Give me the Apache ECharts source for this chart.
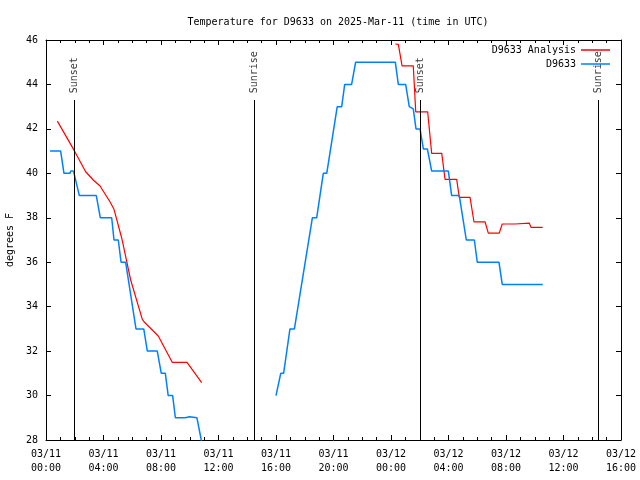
<!DOCTYPE html>
<html>
<head>
<meta charset="utf-8">
<script src="https://cdn.jsdelivr.net/npm/echarts@6/dist/echarts.min.js"></script>
<style>html,body{margin:0;padding:0;background:#fff}#c{width:640px;height:480px}</style>
</head>
<body>
<div id="c"></div>
<script>
// x values are hours since 03/11 00:00 UTC
const xTickLabels = ['03/11\n00:00','03/11\n04:00','03/11\n08:00','03/11\n12:00','03/11\n16:00','03/11\n20:00','03/12\n00:00','03/12\n04:00','03/12\n08:00','03/12\n12:00','03/12\n16:00'];

const obsNight = [
  [0.28,41],[1.02,41],[1.25,40],[1.67,40],[1.72,40.1],[1.9,40.1],[1.95,40],[2.02,40],[2.32,39],[3.5,39],
  [3.78,38],[4.57,38],[4.73,37],[5.03,37],[5.22,36],[5.54,36],[6.26,33],[6.8,33],[7.05,32],[7.74,32],
  [8.02,31],[8.3,31],[8.5,30],[8.81,30],[9.0,29],[9.67,29],[9.68,29.05],[10.0,29.05],[10.02,29],[10.5,29],
  [10.8,28],[11.0,27.5]
];
const obsDay = [
  [16.0,30],[16.33,31],[16.53,31],[16.97,33],[17.28,33],[18.53,38],[18.83,38],[19.29,40],[19.53,40],
  [20.26,43],[20.57,43],[20.78,44],[21.26,44],[21.54,45],[24.3,45],[24.51,44],[25.02,44],[25.27,43],
  [25.55,42.9],[25.74,42],[26.02,42],[26.25,41.1],[26.53,41.1],[26.83,40.1],[27.99,40.1],[28.22,39],
  [28.75,39],[29.24,37],[29.8,37],[30.0,36],[31.51,36],[31.74,35],[34.55,35]
];
const anaNight = [
  [0.79,42.35],[1.97,41.02],[2.76,40.07],[3.29,39.7],[3.76,39.43],[4.45,38.72],[4.73,38.38],[5.27,37.08],
  [5.89,35.2],[6.7,33.43],[6.82,33.32],[7.81,32.68],[8.79,31.49],[9.81,31.49],[10.83,30.58]
];
const anaDay = [
  [24.3,45.82],[24.51,45.8],[24.77,44.84],[25.55,44.84],[25.72,42.77],[26.55,42.77],[26.83,40.9],[27.53,40.9],
  [27.76,39.73],[28.57,39.73],[28.75,38.92],[29.5,38.92],[29.77,37.82],[30.54,37.82],[30.77,37.31],[31.53,37.31],
  [31.74,37.72],[32.63,37.72],[32.65,37.76],[33.62,37.76],[33.74,37.57],[34.55,37.57]
];
const sunTimes = [1.98, 14.52, 26.03, 38.45];
const sunLabels = ['Sunset','Sunrise','Sunset','Sunrise'];
const sunLineTop = 43.3;
const sunLabelBase = 43.6;

const FONT = 'DejaVu Sans Mono';
const FS = 10;
const RED = '#ff0000', BLUE = '#0080ff';

const chart = echarts.init(document.getElementById('c'), null, {renderer:'canvas'});
const axisCommon = {
  axisLine:{show:true, onZero:false, lineStyle:{color:'#000', width:1}},
  splitLine:{show:false}
};
const option = {
  animation:false,
  backgroundColor:'#fff',
  title:{text:'Temperature for D9633 on 2025-Mar-11 (time in UTC)', left:333, textAlign:'center', top:12,
    textStyle:{fontFamily:FONT, fontSize:FS, fontWeight:'normal', color:'#000'}},
  legend:{orient:'vertical', right:25, top:39, align:'right', itemWidth:29, itemHeight:1.5, itemGap:2,
    data:[{name:'D9633 Analysis', icon:'rect', itemStyle:{color:RED}},{name:'D9633', icon:'rect', itemStyle:{color:BLUE}}],
    textStyle:{fontFamily:FONT, fontSize:FS, color:'#000', lineHeight:12}},
  grid:{left:46, right:19, top:40, bottom:40, containLabel:false, outerBoundsMode:'none'},
  xAxis:[
    Object.assign({type:'value', min:0, max:40, interval:4, position:'bottom',
      axisTick:{show:true, inside:true, length:5, lineStyle:{color:'#000'}},
      minorTick:{show:true, splitNumber:4, length:3, lineStyle:{color:'#000'}},
      axisLabel:{show:true, margin:7, color:'#000', fontFamily:FONT, fontSize:FS, lineHeight:14,
        formatter:(v)=>xTickLabels[Math.round(v/4)]}}, axisCommon),
    Object.assign({type:'value', min:0, max:40, interval:4, position:'top',
      axisTick:{show:true, inside:true, length:5, lineStyle:{color:'#000'}},
      minorTick:{show:true, splitNumber:4, length:3, lineStyle:{color:'#000'}},
      axisLabel:{show:false}}, axisCommon)
  ],
  yAxis:[
    Object.assign({type:'value', min:28, max:46, interval:2, position:'left',
      name:'degrees F', nameLocation:'middle', nameGap:30, nameRotate:90,
      nameTextStyle:{fontFamily:FONT, fontSize:FS, color:'#000'},
      axisTick:{show:true, inside:true, length:5, lineStyle:{color:'#000'}},
      axisLabel:{show:true, margin:8, color:'#000', fontFamily:FONT, fontSize:FS}}, axisCommon),
    Object.assign({type:'value', min:28, max:46, interval:2, position:'right',
      axisTick:{show:true, inside:true, length:5, lineStyle:{color:'#000'}},
      axisLabel:{show:false}}, axisCommon)
  ],
  series:[
    {name:'D9633 Analysis', type:'line', data:anaNight, symbol:'none', showSymbol:false, clip:true,
      lineStyle:{color:RED, width:1.2}, itemStyle:{color:RED}},
    {name:'D9633 Analysis', type:'line', data:anaDay, symbol:'none', showSymbol:false, clip:true,
      lineStyle:{color:RED, width:1.2}, itemStyle:{color:RED}},
    {name:'D9633', type:'line', data:obsNight, symbol:'none', showSymbol:false, clip:true,
      lineStyle:{color:BLUE, width:1.5}, itemStyle:{color:BLUE}},
    {name:'D9633', type:'line', data:obsDay, symbol:'none', showSymbol:false, clip:true,
      lineStyle:{color:BLUE, width:1.5}, itemStyle:{color:BLUE}},
    {name:'sun', type:'scatter', symbolSize:0, silent:true,
      data:sunTimes.map((t,i)=>[t, sunLabelBase, sunLabels[i]]),
      label:{show:true, position:[0,0], rotate:90, align:'left', verticalAlign:'middle',
        fontFamily:FONT, fontSize:FS, color:'#000', formatter:(p)=>p.data[2]},
      markLine:{silent:true, symbol:'none', animation:false, label:{show:false},
        lineStyle:{color:'#000', width:1, type:'solid'},
        data:sunTimes.map(t=>[{coord:[t,28]},{coord:[t,sunLineTop]}])}
    }
  ]
};
chart.setOption(option);
</script>
</body>
</html>
